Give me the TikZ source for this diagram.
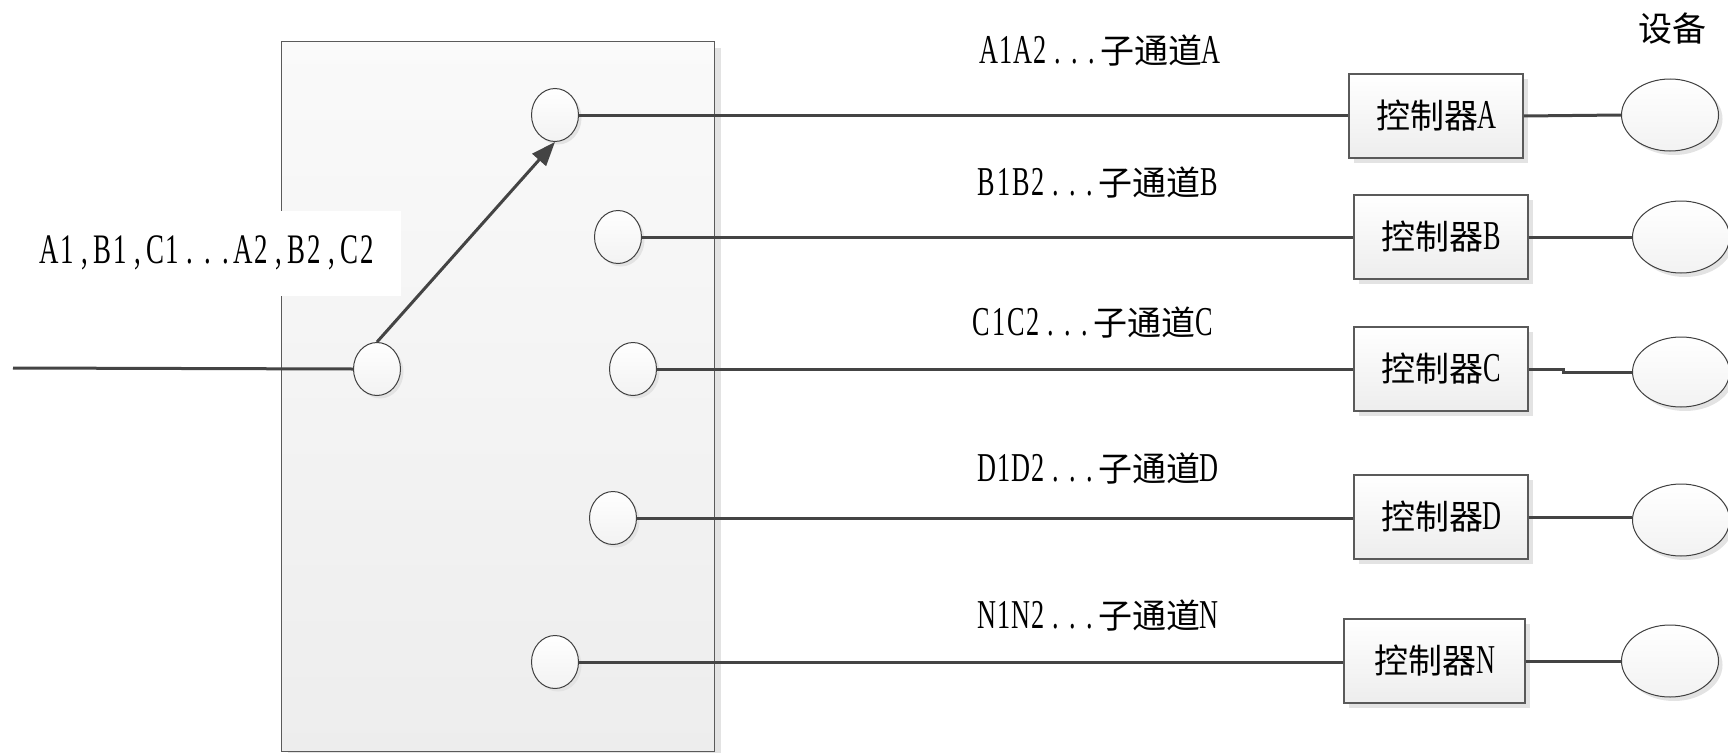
\documentclass[tikz,border=0pt]{standalone}
\usepackage{fontspec}
\setmainfont{Liberation Serif}
\newfontfamily\cjkf{Noto Sans CJK SC}
\newfontfamily\serf[FakeStretch=0.64]{Liberation Serif}
\makeatletter
\newcommand\MS[2]{{\serf\fontsize{#1}{#1}\selectfont\ms@loop#2\relax}}
\def\ms@loop#1{\ifx#1\relax\else\makebox[0.42em]{#1}\expandafter\ms@loop\fi}
\makeatother
\newcommand\LT[1]{\MS{41}{#1}}
\newcommand\CJ[1]{{\cjkf\fontsize{34}{44}\selectfont #1}}
\usetikzlibrary{shapes.geometric,shadows,arrows.meta}
\definecolor{lc}{HTML}{444444}
\definecolor{bc}{HTML}{5A5A5A}
\begin{document}
\begin{tikzpicture}[x=1pt,y=-1pt,
  wire/.style={draw=lc,line width=3pt},
  shd/.style={drop shadow={shadow xshift=#1,shadow yshift=-#1,fill=black!11,opacity=1}},
  panel/.style={rectangle,draw=bc,line width=1.2pt,top color=white!98!black,bottom color=black!7,shd=6pt,inner sep=0,anchor=north west},
  term/.style={ellipse,draw=black!75,line width=1pt,top color=white,bottom color=black!5,minimum width=47pt,minimum height=53pt,inner sep=0,shd=3pt},
  ctrl/.style={rectangle,draw=bc,line width=1.5pt,top color=white,bottom color=black!7,minimum width=174pt,minimum height=84pt,inner sep=0,shd=5pt},
  dev/.style={ellipse,draw=black!75,line width=1pt,top color=white,bottom color=black!5,minimum width=97pt,minimum height=72pt,inner sep=0,shd=4pt},
  lbl/.style={inner sep=0,text=black},
]
\useasboundingbox (0,0) rectangle (1728,752);
% switch panel
\node[panel,minimum width=433pt,minimum height=710pt] (sw) at (281,41) {};
\node[lbl,fill=white,minimum width=386pt,minimum height=85pt] (lin) at (208,253)
  {\MS{42}{A1,B1,C1...A2,B2,C2}};
% terminals
\node[term] (tIn) at (377,369) {};
\node[term] (tA) at (555,115) {};
\node[term] (tB) at (618,237) {};
\node[term] (tC) at (633,369) {};
\node[term] (tD) at (613,518) {};
\node[term] (tN) at (555,662) {};
% controllers
\node[ctrl] (cA) at (1436,116) {\CJ{控制器}\LT{A}};
\node[ctrl] (cB) at (1441,237) {\CJ{控制器}\LT{B}};
\node[ctrl] (cC) at (1441,369) {\CJ{控制器}\LT{C}};
\node[ctrl] (cD) at (1441,517) {\CJ{控制器}\LT{D}};
\node[ctrl,minimum width=181pt] (cN) at (1434.5,661) {\CJ{控制器}\LT{N}};
% devices
\node[dev] (dA) at (1670,115) {};
\node[dev] (dB) at (1681,237) {};
\node[dev,minimum height=70pt] (dC) at (1681,372) {};
\node[dev] (dD) at (1681,520) {};
\node[dev] (dN) at (1670,661) {};
% labels
\node[lbl] (lA) at (1100,51) {\LT{A1A2...}\CJ{子通道}\LT{A}};
\node[lbl] (lB) at (1098,183) {\LT{B1B2...}\CJ{子通道}\LT{B}};
\node[lbl] (lC) at (1093,323) {\LT{C1C2...}\CJ{子通道}\LT{C}};
\node[lbl] (lD) at (1098,469) {\LT{D1D2...}\CJ{子通道}\LT{D}};
\node[lbl] (lN) at (1098,616) {\LT{N1N2...}\CJ{子通道}\LT{N}};
\node[lbl] (lDev) at (1672,29) {\CJ{设备}};
% wires
\coordinate (in) at (13,368);
\coordinate (kC) at (1563,369);
\draw[wire] (in) -- (tIn.west);
\draw[wire] (tA.east) -- (tA.east -| cA.west);
\draw[wire] (tB.east) -- (tB.east -| cB.west);
\draw[wire] (tC.east) -- (tC.east -| cC.west);
\draw[wire] (tD.east) -- (tD.east -| cD.west);
\draw[wire] (tN.east) -- (tN.east -| cN.west);
\draw[wire] (cA.east) -- (dA.west);
\draw[wire] (cB.east) -- (dB.west);
\draw[wire] (cC.east) -- (kC) |- (dC.west);
\draw[wire] (cD.east) -- (cD.east -| dD.west);
\draw[wire] (cN.east) -- (dN.west);
\draw[wire,-{Triangle[length=24pt,width=18pt]}] (tIn.north) -- (tA.south);
\end{tikzpicture}
\end{document}
